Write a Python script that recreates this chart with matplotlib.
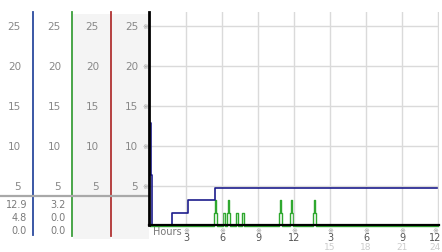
import matplotlib
matplotlib.use('Agg')
import matplotlib.pyplot as plt
from matplotlib.patches import Rectangle
from matplotlib.transforms import blended_transform_factory, offset_copy

# gust trace, hours since midnight / mph
gust_hours = [0, 0.08, 0.17, 1.83, 3.17, 5.42, 23.92]
gust_values = [12.9, 6.4, 0.0, 1.6, 3.2, 4.8, 4.8]

# wind trace (5 min samples, only the non-zero bits)
wind_hours = [0, 5.33, 5.42, 5.5, 5.58, 6.08, 6.25, 6.42, 6.5, 6.58, 6.67,
              7.17, 7.33, 7.67, 7.83, 10.75, 10.83, 10.92, 11.0,
              11.67, 11.75, 11.83, 11.92, 13.58, 13.67, 13.75, 13.83, 24]
wind_values = [0, 1.6, 3.2, 1.6, 0, 1.6, 0, 1.6, 3.2, 1.6, 0,
               1.6, 0, 1.6, 0, 1.6, 3.2, 1.6, 0,
               1.6, 3.2, 1.6, 0, 1.6, 3.2, 1.6, 0, 0]

y_ticks = [5, 10, 15, 20, 25]
x_ticks = [3, 6, 9, 12, 15, 18, 21, 24]
x_labels = ['3', '6', '9', '12', '3', '6', '9', '12']
x_labels2 = ['', '', '', '', '15', '18', '21', '24']
gust_stats = ['12.9', '4.8', '0.0']
wind_stats = ['3.2', '0.0', '0.0']

W, H = 442, 253
fig = plt.figure(figsize=(W / 100, H / 100), dpi=100)

# background axes in pixel coords for the side panel
bg = fig.add_axes([0, 0, 1, 1])
bg.set_xlim(0, W)
bg.set_ylim(H, 0)
bg.axis('off')

bg.add_patch(Rectangle((73, 15), 38, 225, color='#f4f4f4', lw=0))
bg.add_patch(Rectangle((112, 15), 37, 225, color='#f4f4f4', lw=0))
bg.plot([33, 33], [13, 236], color='#2b4a9e', lw=1.3)
bg.plot([72, 72], [13, 237], color='#3a9e3a', lw=1.3)
bg.plot([111, 111], [13, 237], color='#b03232', lw=1.3)
bg.plot([0, 148], [197, 197], color='#a8a8a8', lw=1.6)

ax = fig.add_axes([149 / W, (H - 226) / H, 290 / W, 213 / H])
ax.set_xlim(-0.083, 24.08)
ax.set_ylim(0.12, 26.76)
ax.set_xticks(x_ticks)
ax.set_yticks(y_ticks)
ax.grid(color='#dadada', lw=1)
ax.tick_params(length=0, labelbottom=False, labelleft=False)
ax.set_facecolor('white')
for s in ['top', 'right']:
    ax.spines[s].set_visible(False)
ax.spines['left'].set_linewidth(2)
ax.spines['bottom'].set_linewidth(1.6)

ax.plot(gust_hours, gust_values, drawstyle='steps-post', color='#1c1c8c', lw=1.2)
ax.plot(wind_hours, wind_values, drawstyle='steps-post', color='#2fa82f', lw=1,
        clip_on=False, zorder=1.5)

tx = blended_transform_factory(ax.transData, bg.transData)
last = offset_copy(tx, fig=fig, x=-3, y=0, units='dots')
for x, a, b in zip(x_ticks, x_labels, x_labels2):
    t = last if x == x_ticks[-1] else tx
    ax.text(x, 231, '※', transform=t, ha='center', va='center', fontsize=5, color='#999999')
    ax.text(x, 238.5, a, transform=t, ha='center', va='center', fontsize=7, color='#555555')
    if b:
        ax.text(x, 247.5, b, transform=t, ha='center', va='center', fontsize=6.5, color='#cccccc')
bg.text(153, 232, 'Hours', ha='left', va='center', fontsize=7, color='#777777')

ty = blended_transform_factory(bg.transData, ax.transData)
for v in y_ticks:
    for xr in [21, 61, 99, 138]:
        bg.text(xr, v, str(v), transform=ty, ha='right', va='center', fontsize=7.5, color='#888888')
    bg.text(145, v, '※', transform=ty, ha='center', va='center', fontsize=5, color='#999999')

for y, g, w in zip([205, 218, 231], gust_stats, wind_stats):
    bg.text(27, y, g, ha='right', va='center', fontsize=7, color='#7a7a7a')
    bg.text(66, y, w, ha='right', va='center', fontsize=7, color='#7a7a7a')

# legend
bg.plot([153], [20], 'o', ms=4, mfc='#b8b8b8', mec='#888888', mew=0.6)
bg.text(157, 20, 'Gust 09/12/10', ha='left', va='center', fontsize=7, color='#1f3591')
bg.plot([301], [20], 'o', ms=4, mfc='#b8b8b8', mec='#888888', mew=0.6)
bg.text(305, 20, 'Wind 09/12/10', ha='left', va='center', fontsize=7, color='#2a9a2a')

fig.savefig('out.png', dpi=100)
